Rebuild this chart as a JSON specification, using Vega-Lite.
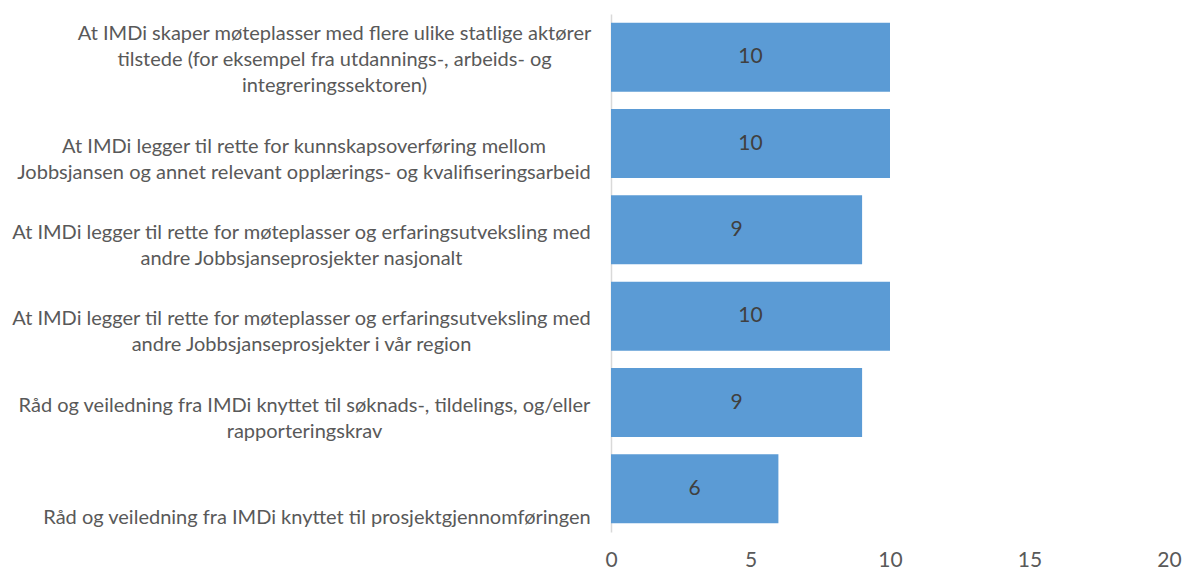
{
  "$schema": "https://vega.github.io/schema/vega-lite/v6.json",
  "width": 558,
  "height": 518,
  "autosize": {"type": "none"},
  "padding": {"left": 611, "top": 14, "right": 22, "bottom": 39},
  "background": "white",
  "config": {"view": {"stroke": null}, "font": "Lato"},
  "data": {
    "values": [
      {"label": "At IMDi skaper møteplasser med flere ulike statlige aktører|tilstede (for eksempel fra utdannings-, arbeids- og|integreringssektoren)", "value": 10},
      {"label": "At IMDi legger til rette for kunnskapsoverføring mellom|Jobbsjansen og annet relevant opplærings- og kvalifiseringsarbeid", "value": 10},
      {"label": "At IMDi legger til rette for møteplasser og erfaringsutveksling med|andre Jobbsjanseprosjekter nasjonalt", "value": 9},
      {"label": "At IMDi legger til rette for møteplasser og erfaringsutveksling med|andre Jobbsjanseprosjekter i vår region", "value": 10},
      {"label": "Råd og veiledning fra IMDi knyttet til søknads-, tildelings, og/eller|rapporteringskrav", "value": 9},
      {"label": "Råd og veiledning fra IMDi knyttet til prosjektgjennomføringen", "value": 6}
    ]
  },
  "encoding": {
    "y": {
      "field": "label",
      "type": "nominal",
      "sort": null,
      "scale": {"paddingInner": 0.2, "paddingOuter": 0.1},
      "axis": {
        "title": null,
        "labelExpr": "split(datum.label, '|')",
        "domain": true,
        "domainColor": "#d9d9d9",
        "domainWidth": 1.5,
        "ticks": false,
        "grid": false,
        "labelAlign": "center",
        "labelBaseline": "bottom",
        "labelOffset": {
          "condition": [
            {"test": "length(split(datum.value, '|')) == 3", "value": -13},
            {"test": "length(split(datum.value, '|')) == 2", "value": 13}
          ],
          "value": 39
        },
        "labelPadding": {
          "condition": [
            {"test": "indexof(datum.value, 'skaper') >= 0", "value": 277},
            {"test": "indexof(datum.value, 'kunnskaps') >= 0", "value": 307.5},
            {"test": "indexof(datum.value, 'søknads') >= 0", "value": 307},
            {"test": "indexof(datum.value, 'prosjektgjennom') >= 0", "value": 294.5}
          ],
          "value": 310
        },
        "labelColor": "#595959",
        "labelFontSize": 20,
        "labelLineHeight": 26,
        "labelLimit": 0
      }
    }
  },
  "layer": [
    {
      "mark": {"type": "bar", "color": "#5b9bd5"},
      "encoding": {
        "x": {
          "field": "value",
          "type": "quantitative",
          "scale": {"domain": [0, 20]},
          "axis": {
            "title": null,
            "values": [0, 5, 10, 15, 20],
            "domain": false,
            "ticks": false,
            "grid": false,
            "labelColor": "#595959",
            "labelFontSize": 21,
            "labelPadding": 17,
            "labelFlush": false
          }
        }
      }
    },
    {
      "mark": {"type": "text", "fontSize": 21, "color": "#404040", "baseline": "middle", "align": "center"},
      "encoding": {
        "x": {"field": "value", "type": "quantitative", "stack": "zero", "bandPosition": 0.5},
        "text": {"field": "value", "type": "quantitative"}
      }
    }
  ]
}
